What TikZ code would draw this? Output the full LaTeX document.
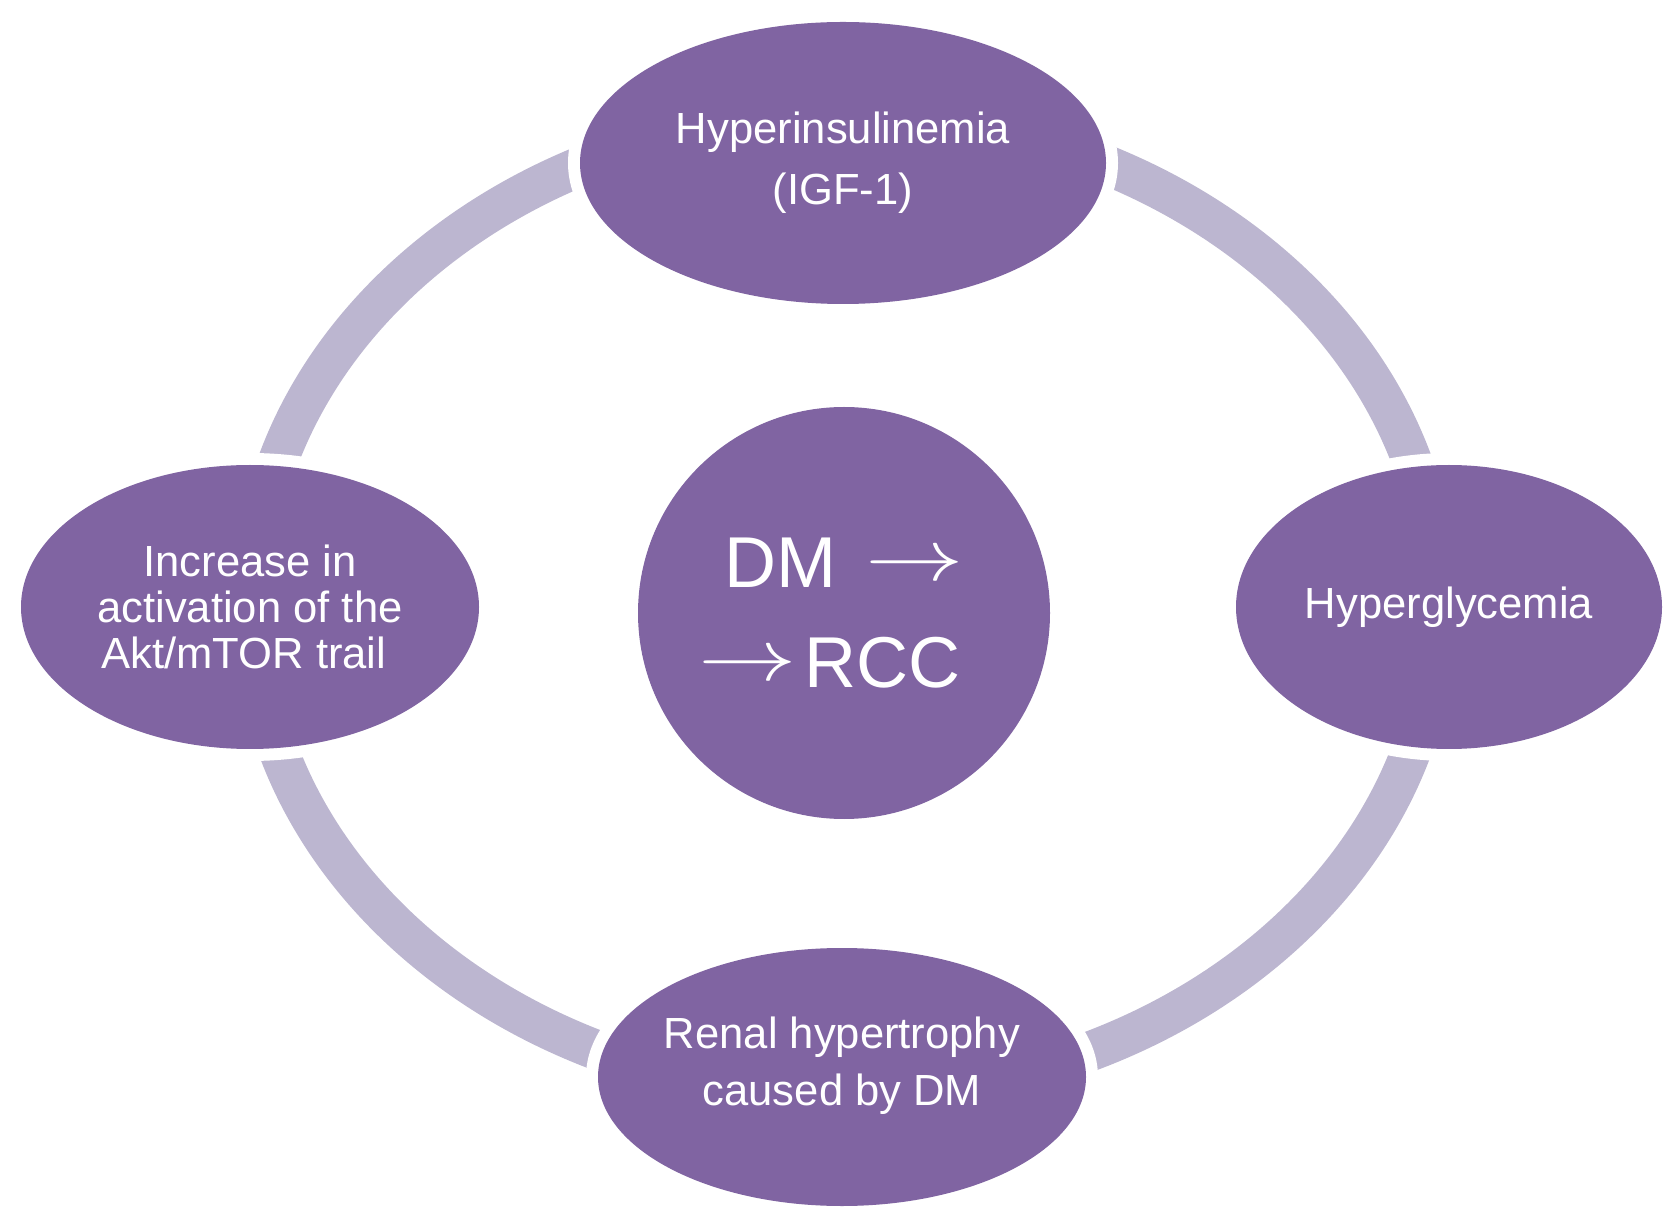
\documentclass[tikz,border=0pt]{standalone}
\usepackage{fontspec}
\setmainfont{Liberation Sans}
\usetikzlibrary{shapes}
\definecolor{bubblepurple}{RGB}{128,100,162}
\definecolor{ringlilac}{RGB}{188,182,208}
\tikzstyle{bubble}=[ellipse,fill=bubblepurple,preaction={draw=white,line width=0.24cm},text=white,inner sep=0pt,inner xsep=-0.2cm,align=center]
\tikzstyle{ring}=[draw=ringlilac,line width=0.4cm]
\newcommand{\dmarrow}{\raisebox{0.1em}{\scalebox{1.35}[1]{$\rightarrow$}}}

\begin{document}
\begin{tikzpicture}
\useasboundingbox (0,0) rectangle (16.77,-12.19);

% the ring runs behind the bubbles
    \coordinate (hub) at (8.45,-6.05);
    \draw[ring] (hub) ellipse [x radius=5.93, y radius=4.90];

% outer bubbles
    \foreach \pos/\name/\bw/\bh/\lead/\label in {{(8.43,-1.63)/hyper/5.26/2.82/17.4/{Hyperinsulinemia\\(IGF-1)}}, {(14.49,-6.07)/glyc/4.26/2.84/15/{Hyperglycemia}}, {(2.50,-6.07)/akt/4.58/2.84/13.1/{Increase in\\activation of the\\Akt/mTOR trail\hspace*{0.28em}}}}
        \node[bubble, minimum width=\bw cm, minimum height=\bh cm, font=\fontsize{12.4}{\lead}\selectfont] (\name) at \pos {\label};
    \node[bubble, minimum width=4.88cm, minimum height=2.58cm, text depth=9pt, font=\fontsize{12.4}{16.2}\selectfont] (renal) at (8.42,-10.77) {Renal hypertrophy\\caused by DM};

% centre
    \node[bubble, circle, minimum size=4.12cm, font=\fontsize{20.5}{28.4}\selectfont] (dm) at (8.44,-6.13) {DM\hspace{0.4em}\dmarrow\\\dmarrow\hspace{0.1em}RCC\hspace*{0.4em}};

\end{tikzpicture}
\end{document}
